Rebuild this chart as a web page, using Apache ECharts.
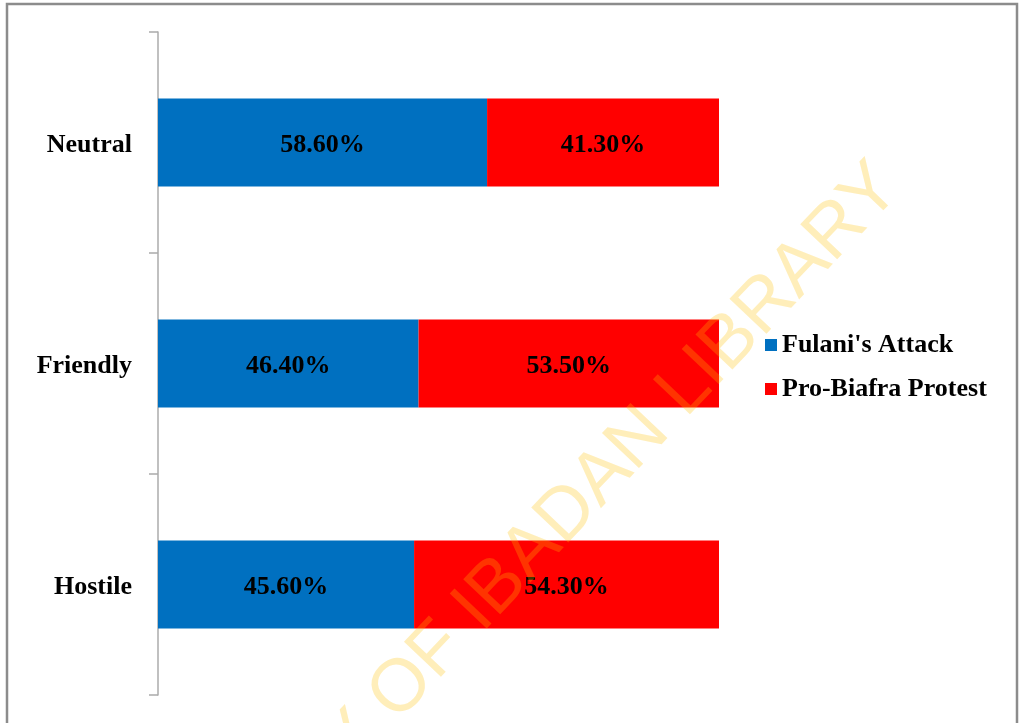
<!DOCTYPE html>
<html>
<head>
<meta charset="utf-8">
<script src="https://cdn.jsdelivr.net/npm/echarts@6/dist/echarts.min.js"></script>
<style>
html,body{margin:0;padding:0;background:#fff;}
#chart{width:1023px;height:723px;}
</style>
</head>
<body>
<div id="chart"></div>
<script>
const categories = ['Hostile', 'Friendly', 'Neutral'];
const fulaniAttack = [45.6, 46.4, 58.6];
const proBiafraProtest = [54.3, 53.5, 41.3];
const seriesNames = ["Fulani's Attack", 'Pro-Biafra Protest'];
const watermarkText = 'UNIVERSITY OF IBADAN LIBRARY';

const serif = '"Liberation Serif", "Times New Roman", serif';
const chart = echarts.init(document.getElementById('chart'));
const labelCfg = {
  show: true,
  position: 'inside',
  offset: [0, 3],
  color: '#000',
  fontFamily: serif,
  fontWeight: 'bold',
  fontSize: 26,
  formatter: p => p.value.toFixed(2) + '%'
};
chart.setOption({
  animation: false,
  backgroundColor: '#fff',
  grid: { left: 158, right: 304, top: 32, bottom: 28, containLabel: false },
  xAxis: { type: 'value', min: 0, max: 99.9, show: false },
  yAxis: {
    type: 'category',
    data: categories,
    axisLine: { show: true, lineStyle: { color: '#ABABAB', width: 1.5 } },
    axisTick: { show: true, length: 9, lineStyle: { color: '#ABABAB', width: 1.5 } },
    axisLabel: {
      margin: 26,
      formatter: v => '{c|' + v + '}',
      rich: { c: { color: '#000', fontFamily: serif, fontWeight: 'bold', fontSize: 26,
        padding: [6, 0, 0, 0] } }
    },
    splitLine: { show: false }
  },
  legend: {
    orient: 'vertical',
    left: 760,
    top: 327,
    itemWidth: 12,
    itemHeight: 12,
    itemGap: 18,
    icon: 'rect',
    textStyle: { color: '#000', fontFamily: serif, fontWeight: 'bold', fontSize: 26 },
    data: seriesNames
  },
  series: [
    { name: seriesNames[0], type: 'bar', stack: 'a', data: fulaniAttack, barWidth: 88,
      itemStyle: { color: '#0070C0' }, label: labelCfg },
    { name: seriesNames[1], type: 'bar', stack: 'a', data: proBiafraProtest, barWidth: 88,
      itemStyle: { color: '#FF0000' }, label: labelCfg }
  ],
  graphic: [
    { type: 'rect', z: 100, silent: true,
      shape: { x: 7, y: 4, width: 1010, height: 740 },
      style: { fill: 'none', stroke: '#8C8C8C', lineWidth: 2.5 } },
    { type: 'text', z: 99, silent: true, x: 888, y: 176, rotation: 46.5 * Math.PI / 180,
      style: { text: watermarkText, fill: 'rgba(255,192,0,0.27)',
        font: '74px "Liberation Sans", Arial, sans-serif',
        align: 'right', verticalAlign: 'middle' } }
  ]
});
</script>
</body>
</html>
